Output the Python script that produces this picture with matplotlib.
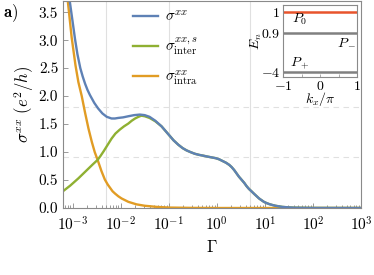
import matplotlib
matplotlib.use("Agg")  # headless
import matplotlib.pyplot as plt
import numpy as np

plt.rcParams["font.family"] = ["cmr10", "DejaVu Serif"]
plt.rcParams["mathtext.fontset"] = "cm"
plt.rcParams["axes.formatter.use_mathtext"] = True

# log10(Gamma) and conductivities
lg_total = [-3.20, -3.06, -3.00, -2.95, -2.90, -2.84, -2.79, -2.74, -2.69, -2.64,
            -2.55, -2.47, -2.38, -2.29, -2.19, -2.12, -2.05, -1.95, -1.84, -1.72,
            -1.60, -1.50, -1.40, -1.28, -1.15, -1.06, -0.98, -0.90, -0.80, -0.71,
            -0.63, -0.55, -0.46, -0.37, -0.28, -0.20, -0.11, -0.02, 0.05, 0.12,
            0.19, 0.26, 0.31, 0.36, 0.41, 0.46, 0.52, 0.57, 0.62, 0.67,
            0.72, 0.78, 0.83, 0.88, 0.93, 0.98, 1.03, 1.09, 1.15, 1.22,
            1.29, 1.36, 1.48, 1.60, 1.80, 2.00, 3.00]
sigma_total = [4.45, 3.70, 3.33, 3.02, 2.75, 2.50, 2.35, 2.22, 2.11, 2.02,
               1.88, 1.78, 1.69, 1.63, 1.60, 1.60, 1.61, 1.62, 1.64, 1.66,
               1.67, 1.66, 1.63, 1.56, 1.46, 1.37, 1.29, 1.21, 1.13, 1.07,
               1.03, 1.00, 0.97, 0.95, 0.935, 0.92, 0.905, 0.89, 0.87, 0.84,
               0.81, 0.77, 0.73, 0.68, 0.62, 0.56, 0.50, 0.45, 0.39, 0.34,
               0.30, 0.25, 0.21, 0.17, 0.14, 0.11, 0.09, 0.07, 0.055, 0.04,
               0.03, 0.02, 0.012, 0.006, 0.003, 0.001, 0.0]

lg_inter = [-3.20, -3.05, -2.88, -2.70, -2.58, -2.48, -2.42, -2.35, -2.27, -2.19,
            -2.11, -2.02, -1.93, -1.84, -1.77, -1.70, -1.63, -1.57, -1.50, -1.40,
            -1.28, -1.15, -1.06, -0.98, -0.90, -0.80, -0.71, -0.63, -0.55, -0.46,
            -0.37, -0.28, -0.20, -0.11, -0.02, 0.05, 0.12, 0.19, 0.26, 0.31,
            0.36, 0.41, 0.46, 0.52, 0.57, 0.62, 0.67, 0.72, 0.78, 0.83,
            0.88, 0.93, 0.98, 1.03, 1.09, 1.15, 1.22, 1.29, 1.36, 1.48,
            1.60, 1.80, 2.00, 3.00]
sigma_inter = [0.30, 0.40, 0.53, 0.68, 0.78, 0.86, 0.93, 1.02, 1.13, 1.24,
               1.33, 1.40, 1.46, 1.51, 1.56, 1.60, 1.63, 1.65, 1.64, 1.61,
               1.55, 1.46, 1.37, 1.29, 1.21, 1.13, 1.07, 1.03, 1.00, 0.97,
               0.95, 0.935, 0.92, 0.905, 0.89, 0.87, 0.84, 0.81, 0.77, 0.73,
               0.68, 0.62, 0.56, 0.50, 0.45, 0.39, 0.34, 0.30, 0.25, 0.21,
               0.17, 0.14, 0.11, 0.09, 0.07, 0.055, 0.04, 0.03, 0.02, 0.012,
               0.006, 0.003, 0.001, 0.0]

lg_intra = [-3.20, -3.10, -3.02, -2.94, -2.88, -2.81, -2.74, -2.67, -2.60, -2.54,
            -2.48, -2.40, -2.33, -2.27, -2.22, -2.17, -2.12, -2.05, -1.98, -1.91,
            -1.84, -1.67, -1.50, -1.25, -1.00, -0.50, 0.00, 3.00]
sigma_intra = [4.90, 3.70, 3.05, 2.55, 2.25, 2.00, 1.70, 1.42, 1.18, 1.00,
               0.86, 0.66, 0.51, 0.42, 0.36, 0.30, 0.26, 0.21, 0.17, 0.14,
               0.11, 0.065, 0.04, 0.02, 0.008, 0.002, 0.0, 0.0]

grid_gamma = [0.005, 0.1, 5.0]
grid_sigma = [1.81, 0.905]

# inset: band energies, schematic vertical positions
band_labels = ["$1$", "$0.9$", "$-4$"]
band_pos = [65, 44, 5]
band_names = [r"$P_0$", r"$P_-$", r"$P_+$"]
band_colors = ["#E8542C", "#808080", "#808080"]

c_blue, c_green, c_orange = "#5E81B5", "#8FB032", "#E19C24"
spine_c = "#8a8a8a"

fig = plt.figure(figsize=(3.74, 2.75), dpi=100)
ax = fig.add_axes([63 / 374, 1 - 208 / 275, 298 / 374, 207 / 275])

for g in grid_gamma:
    ax.axvline(g, color="#e0e0e0", lw=0.8, zorder=0)
for s in grid_sigma:
    ax.axhline(s, color="#e0e0e0", lw=0.8, ls=(0, (5, 4)), zorder=0)

l3, = ax.plot(10 ** np.array(lg_intra), sigma_intra, color=c_orange, lw=1.7,
              label=r"$\sigma^{xx}_{\mathrm{intra}}$")
l2, = ax.plot(10 ** np.array(lg_inter), sigma_inter, color=c_green, lw=1.7,
              label=r"$\sigma^{xx,s}_{\mathrm{inter}}$")
l1, = ax.plot(10 ** np.array(lg_total), sigma_total, color=c_blue, lw=1.7,
              label=r"$\sigma^{xx}$")

ax.set_xscale("log")
ax.set_xlim(10 ** -3.2, 1e3)
ax.set_ylim(0, 3.7)
ax.set_xticks([1e-3, 1e-2, 1e-1, 1e0, 1e1, 1e2, 1e3])
ax.set_yticks(np.arange(0, 3.6, 0.5))
ax.set_yticklabels([f"{v:.1f}" for v in np.arange(0, 3.6, 0.5)])
ax.tick_params(which="both", direction="in", color=spine_c, labelsize=11, width=0.6)
ax.tick_params(which="major", length=3.5)
ax.tick_params(which="minor", length=2.5)
ax.tick_params(axis="x", pad=5)
for sp in ax.spines.values():
    sp.set_color(spine_c)
    sp.set_linewidth(0.8)

ax.set_xlabel(r"$\Gamma$", fontsize=12, labelpad=4)
ax.set_ylabel(r"$\sigma^{xx}\ (e^2/h)$", fontsize=12, labelpad=2)
fig.text(3 / 374, 1 - 13 / 275, r"$\mathbf{a}$)", fontsize=12, va="center", ha="left")

ax.legend(handles=[l1, l2, l3], loc="upper left", bbox_to_anchor=(0.19, 1.025),
          frameon=False, fontsize=11, handlelength=1.6, handletextpad=0.5,
          labelspacing=0.75)

# inset
ins = fig.add_axes([283 / 374, 1 - 77 / 275, 74 / 374, 72 / 275])
for p, c in zip(band_pos, band_colors):
    ins.plot([-1, 1], [p, p], color=c, lw=1.8)
ins.set_xlim(-1, 1)
ins.set_ylim(0, 72)
ins.set_yticks(band_pos)
ins.set_yticklabels(band_labels)
ins.set_xticks([-1, 0, 1])
ins.set_xticklabels(["$-1$", "$0$", "$1$"])
ins.set_xticks([-0.5, 0.5], minor=True)
ins.tick_params(which="both", direction="in", color=spine_c, labelsize=10,
                length=2, width=0.5, pad=2)
for sp in ins.spines.values():
    sp.set_color(spine_c)
    sp.set_linewidth(0.8)
ins.text(-0.75, 54, band_names[0], fontsize=10)
ins.text(0.45, 32, band_names[1], fontsize=10)
ins.text(-0.8, 10, band_names[2], fontsize=10)
ins.set_ylabel(r"$E_n$", fontsize=10, labelpad=-2)
ins.set_xlabel(r"$k_x/\pi$", fontsize=10, labelpad=-2)

fig.savefig("out.png", dpi=100)
